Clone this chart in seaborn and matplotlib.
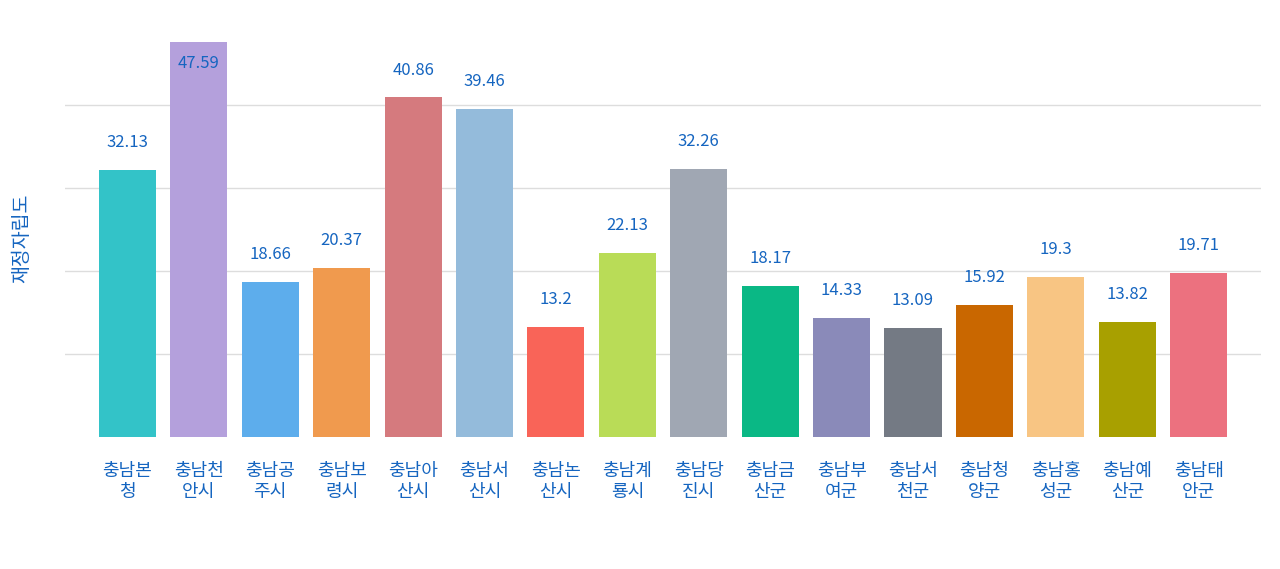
import matplotlib
matplotlib.use("Agg")
import matplotlib.pyplot as plt
import seaborn as sns
import pandas as pd

regions = ["충남본\n청", "충남천\n안시", "충남공\n주시", "충남보\n령시", "충남아\n산시", "충남서\n산시",
           "충남논\n산시", "충남계\n룡시", "충남당\n진시", "충남금\n산군", "충남부\n여군", "충남서\n천군",
           "충남청\n양군", "충남홍\n성군", "충남예\n산군", "충남태\n안군"]
values = [32.13, 47.59, 18.66, 20.37, 40.86, 39.46, 13.2, 22.13, 32.26, 18.17, 14.33, 13.09,
          15.92, 19.3, 13.82, 19.71]
colors = ["#33C3C8", "#B4A0DC", "#5DADEC", "#F09A4E", "#D57A7E", "#94BBDB", "#F96458", "#B9DC57",
          "#A0A7B3", "#0AB885", "#8A8AB9", "#747A84", "#C96700", "#F8C583", "#A8A000", "#EC717F"]

plt.rcParams["font.family"] = "Noto Sans CJK KR"
blue = "#1565C0"
df = pd.DataFrame({"region": regions, "value": values})

fig = plt.figure(figsize=(12.8, 5.69), dpi=100)
ax = fig.add_axes([0.051, 0.232, 0.934, 0.698])
sns.barplot(data=df, x="region", y="value", hue="region", palette=colors, legend=False,
            width=0.8, saturation=1, ax=ax)
ax.set_ylim(0, 47.8)
ax.set_xlim(-0.87, 15.87)
ax.set_yticks([10, 20, 30, 40])
ax.set_yticklabels([])
ax.tick_params(axis="y", length=0)
ax.tick_params(axis="x", length=0, pad=18, labelsize=13, labelcolor=blue)
ax.grid(axis="y", color="#DDDDDD", linewidth=1)
ax.set_axisbelow(True)
for s in ax.spines.values():
    s.set_visible(False)
ax.set_xlabel("")
ax.set_ylabel("재정자립도", color=blue, fontsize=14, labelpad=20)
for i, v in enumerate(values):
    ax.text(i, min(v + 3.3, 45), f"{v:g}", ha="center", va="center", color=blue, fontsize=12)
fig.savefig("out.png", dpi=100)
